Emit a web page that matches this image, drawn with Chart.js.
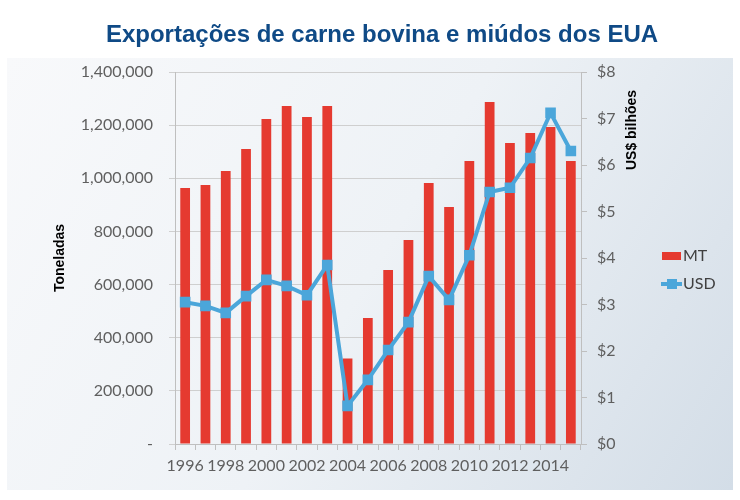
<!DOCTYPE html>
<html>
<head>
<meta charset="utf-8">
<script src="https://cdn.jsdelivr.net/npm/chart.js@4.4.0/dist/chart.umd.min.js"></script>
<style>
  body { margin: 0; background: #fff; }
  #wrap { width: 740px; height: 500px; }
</style>
</head>
<body>
<div id="wrap"><canvas id="beefChart" width="740" height="500"></canvas></div>
<script>
const years = ['1996','1997','1998','1999','2000','2001','2002','2003','2004','2005',
               '2006','2007','2008','2009','2010','2011','2012','2013','2014','2015'];
// toneladas
const mt = [963000, 975000, 1027000, 1110000, 1223000, 1272000, 1231000, 1272000, 322000, 474000,
            655000, 768000, 982000, 892000, 1065000, 1287000, 1133000, 1170000, 1193000, 1065000];
// US$ bilhões
const usd = [3.05, 2.97, 2.82, 3.18, 3.53, 3.40, 3.20, 3.85, 0.82, 1.38,
             2.02, 2.62, 3.61, 3.10, 4.06, 5.42, 5.51, 6.15, 7.12, 6.30];

const titleText = 'Exportações de carne bovina e miúdos dos EUA';
const tickFont = { family: 'Lato', size: 16 };
const tickColor = '#5f5f5f';
const red = '#e53a30';
const blue = '#4ba6da';

const decor = {
    id: 'decor',
    beforeDraw(chart) {
        const ctx = chart.ctx;
        ctx.save();
        const g = ctx.createLinearGradient(7, 58, 733, 490);
        g.addColorStop(0, '#f8f9fb');
        g.addColorStop(0.5, '#eef2f6');
        g.addColorStop(1, '#d3dde7');
        ctx.fillStyle = g;
        ctx.fillRect(7, 58, 726, 432);
        ctx.restore();
    },
    afterDraw(chart) {
        const ctx = chart.ctx;
        ctx.save();
        // title
        ctx.fillStyle = '#0f4a86';
        ctx.font = 'bold 24px "Liberation Sans", Arial';
        ctx.textAlign = 'center';
        ctx.textBaseline = 'middle';
        ctx.fillText(titleText, 382, 35);

        // right axis title, bottom to top
        ctx.fillStyle = '#000';
        ctx.font = 'bold 14px "Liberation Sans", Arial';
        ctx.translate(632, 130);
        ctx.rotate(-Math.PI / 2);
        ctx.fillText('US$ bilhões', 0, 0);
        ctx.restore();

        // legend
        ctx.save();
        ctx.font = '16px Lato';
        ctx.textBaseline = 'middle';
        ctx.textAlign = 'left';
        ctx.fillStyle = red;
        ctx.fillRect(662, 252, 19, 8);
        ctx.fillStyle = '#404040';
        ctx.fillText('MT', 683, 256);
        ctx.strokeStyle = blue;
        ctx.lineWidth = 4;
        ctx.beginPath();
        ctx.moveTo(661, 284);
        ctx.lineTo(682, 284);
        ctx.stroke();
        ctx.fillStyle = blue;
        ctx.fillRect(667, 279, 10, 10);
        ctx.fillStyle = '#404040';
        ctx.fillText('USD', 683, 284);
        ctx.restore();
    }
};

const ctx = document.getElementById('beefChart').getContext('2d');
new Chart(ctx, {
    type: 'bar',
    data: {
        labels: years,
        datasets: [
            {
                type: 'line',
                label: 'USD',
                data: usd,
                yAxisID: 'yUsd',
                borderColor: blue,
                backgroundColor: blue,
                borderWidth: 4,
                pointStyle: 'rect',
                pointRadius: 7.5,
                pointBorderWidth: 0,
                tension: 0,
                order: 0
            },
            {
                label: 'MT',
                data: mt,
                yAxisID: 'yMt',
                backgroundColor: red,
                barPercentage: 0.48,
                categoryPercentage: 1,
                order: 1
            }
        ]
    },
    options: {
        responsive: false,
        animation: false,
        layout: { padding: { top: 72, left: 0, right: 0, bottom: 0 } },
        plugins: {
            legend: { display: false },
            title: { display: false },
            tooltip: { enabled: false }
        },
        scales: {
            x: {
                afterFit: s => { s.height = 56; },
                grid: { offset: true, drawOnChartArea: false, tickLength: 6, color: '#bfbfbf' },
                border: { color: '#bfbfbf' },
                ticks: {
                    autoSkip: false,
                    maxRotation: 0,
                    padding: 6,
                    font: tickFont,
                    color: tickColor,
                    callback: (v, i) => (i % 2 === 0 ? years[i] : '')
                }
            },
            yMt: {
                position: 'left',
                min: 0,
                max: 1400000,
                afterFit: s => { s.width = 175; },
                grid: { color: '#cfcfcf', tickLength: 6 },
                border: { color: '#bfbfbf' },
                ticks: {
                    stepSize: 200000,
                    padding: 16,
                    font: tickFont,
                    color: tickColor,
                    callback: v => (v === 0 ? '-' : v.toLocaleString('en-US'))
                },
                title: {
                    display: true,
                    text: 'Toneladas',
                    color: '#000',
                    font: { family: 'Liberation Sans', size: 14, weight: 'bold' },
                    padding: { top: 52, bottom: 0 }
                }
            },
            yUsd: {
                position: 'right',
                min: 0,
                max: 8,
                afterFit: s => { s.width = 159; },
                grid: { drawOnChartArea: false, tickLength: 6, color: '#bfbfbf' },
                border: { color: '#bfbfbf' },
                ticks: {
                    stepSize: 1,
                    padding: 10,
                    font: tickFont,
                    color: tickColor,
                    callback: v => '$' + v
                }
            }
        }
    },
    plugins: [decor]
});
</script>
</body>
</html>
